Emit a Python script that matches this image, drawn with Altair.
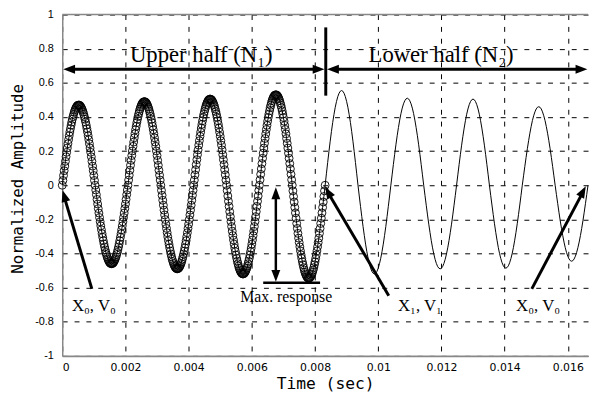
import altair as alt
import pandas as pd

# ---------------- data ----------------
UPPER_STEP = 0.00002   # sampling interval of the circle-marked upper half (s)
LOWER_START = 0.00832  # start of the lower half (s)
LOWER_STEP = 0.00004   # sampling interval of the line-drawn lower half (s)

# upper half (drawn with circles), one line per half-cycle
upper_amp = [
    0, .028, .057, .085, .112, .140, .167, .193, .218, .243, .267, .290, .312, .332, .352, .370, .387, .402, .416, .429, .439, .449, .456, .462, .467, .469, .470, .469, .467, .462, .456, .449, .439, .429, .416, .402, .387, .370, .352, .332, .312, .290, .267, .243, .218, .193, .167, .140, .112, .085, .057, .028,
    0, -.028, -.055, -.083, -.110, -.137, -.163, -.189, -.214, -.238, -.261, -.284, -.305, -.325, -.344, -.362, -.379, -.394, -.407, -.420, -.430, -.439, -.447, -.453, -.457, -.459, -.460, -.459, -.457, -.453, -.447, -.439, -.430, -.420, -.407, -.394, -.379, -.362, -.344, -.325, -.305, -.284, -.261, -.238, -.214, -.189, -.163, -.137, -.110, -.083, -.055, -.028,
    0, .030, .059, .088, .117, .146, .174, .201, .228, .253, .278, .302, .325, .346, .367, .386, .403, .419, .434, .447, .458, .468, .476, .482, .486, .489, .490, .489, .486, .482, .476, .468, .458, .447, .434, .419, .403, .386, .367, .346, .325, .302, .278, .253, .228, .201, .174, .146, .117, .088, .059, .030,
    0, -.030, -.059, -.088, -.117, -.146, -.174, -.201, -.228, -.253, -.278, -.302, -.325, -.346, -.367, -.386, -.403, -.419, -.434, -.447, -.458, -.468, -.476, -.482, -.486, -.489, -.490, -.489, -.486, -.482, -.476, -.468, -.458, -.447, -.434, -.419, -.403, -.386, -.367, -.346, -.325, -.302, -.278, -.253, -.228, -.201, -.174, -.146, -.117, -.088, -.059, -.030,
    0, .030, .061, .091, .121, .150, .179, .207, .235, .261, .287, .311, .335, .357, .378, .398, .416, .432, .447, .461, .472, .482, .490, .497, .501, .504, .505, .504, .501, .497, .490, .482, .472, .461, .447, .432, .416, .398, .378, .357, .335, .311, .287, .261, .235, .207, .179, .150, .121, .091, .061, .030,
    0, -.031, -.063, -.094, -.124, -.155, -.184, -.213, -.242, -.269, -.295, -.321, -.345, -.368, -.389, -.409, -.428, -.445, -.460, -.474, -.486, -.496, -.505, -.511, -.516, -.519, -.520, -.519, -.516, -.511, -.505, -.496, -.486, -.474, -.460, -.445, -.428, -.409, -.389, -.368, -.345, -.321, -.295, -.269, -.242, -.213, -.184, -.155, -.124, -.094, -.063, -.031,
    0, .032, .064, .096, .127, .158, .188, .218, .246, .274, .301, .327, .351, .375, .397, .417, .436, .454, .469, .483, .496, .506, .515, .521, .526, .529, .530, .529, .526, .521, .515, .506, .496, .483, .469, .454, .436, .417, .397, .375, .351, .327, .301, .274, .246, .218, .188, .158, .127, .096, .064, .032,
    0, -.033, -.066, -.098, -.130, -.162, -.193, -.224, -.253, -.282, -.310, -.336, -.361, -.385, -.408, -.429, -.449, -.466, -.483, -.497, -.510, -.520, -.529, -.536, -.541, -.544, -.545, -.544, -.541, -.536, -.529, -.520, -.510, -.497, -.483, -.466, -.449, -.429, -.408, -.385, -.361, -.336, -.310, -.282, -.253, -.224, -.193, -.162, -.130, -.098, -.066, -.033,
]
# lower half (thin line)
lower_amp = [
    0, .067, .133, .197, .258, .315, .368, .415, .457, .491, .519, .539, .551, .555, .551, .539, .519, .491, .457, .415, .368, .315, .258, .197, .133, .067,
    0, -.063, -.124, -.184, -.242, -.295, -.345, -.389, -.428, -.460, -.486, -.505, -.516, -.520, -.516, -.505, -.486, -.460, -.428, -.389, -.345, -.295, -.242, -.184, -.124, -.063,
    0, .061, .122, .181, .237, .290, .338, .382, .420, .452, .477, .495, .506, .510, .506, .495, .477, .452, .420, .382, .338, .290, .237, .181, .122, .061,
    0, -.059, -.117, -.174, -.228, -.278, -.325, -.367, -.403, -.434, -.458, -.476, -.486, -.490, -.486, -.476, -.458, -.434, -.403, -.367, -.325, -.278, -.228, -.174, -.117, -.059,
    0, .061, .121, .179, .235, .287, .335, .378, .416, .447, .472, .490, .501, .505, .501, .490, .472, .447, .416, .378, .335, .287, .235, .179, .121, .061,
    0, -.059, -.116, -.172, -.226, -.276, -.322, -.364, -.400, -.430, -.454, -.472, -.482, -.486, -.482, -.472, -.454, -.430, -.400, -.364, -.322, -.276, -.226, -.172, -.116, -.059,
    0, .055, .110, .163, .214, .261, .305, .344, .379, .407, .430, .447, .457, .460, .457, .447, .430, .407, .379, .344, .305, .261, .214, .163, .110, .055,
    0, -.054, -.106, -.158, -.207, -.253, -.295, -.333, -.366, -.394, -.416, -.432, -.442, -.445, -.442, -.432, -.416, -.394, -.366, -.333, -.295, -.253, -.207, -.158, -.106, -.054,
    0,
]

x_ticks = [0, 0.002, 0.004, 0.006, 0.008, 0.01, 0.012, 0.014, 0.016]
y_ticks = [-1, -0.8, -0.6, -0.4, -0.2, 0, 0.2, 0.4, 0.6, 0.8, 1]
X_MAX = 0.01664

# annotation shafts (thick)
shaft_x = [0.00022, 0.00857, 0.00834, 0.000937, 0.010334, 0.014861]
shaft_y = [0.68, 0.68, 0.525, -0.607, -0.647, -0.607]
shaft_x2 = [0.00811, 0.01643, 0.00834, 0.000053, 0.00841, 0.01649]
shaft_y2 = [0.68, 0.68, 0.925, -0.062, -0.042, -0.036]
# max-response shaft and base bar
mr_x = [0.00676, 0.00636]
mr_y = [-0.04, -0.571]
mr_x2 = [0.00676, 0.00816]
mr_y2 = [-0.535, -0.571]
# arrow heads: tip position and pointing angle
head_x = [0.00003, 0.0083, 0.00838, 0.01662, 0.00676, 0.00676, 0.00001, 0.00832, 0.01657]
head_y = [0.68, 0.68, 0.68, 0.68, -0.012, -0.566, -0.029, -0.01, -0.006]
head_angle = [270, 90, 270, 90, 0, 180, 343.3, 329.8, 28.3]

big_text = ["Upper half (N\u2081)", "Lower half (N\u2082)"]
big_x = [0.0044, 0.01199]
big_y = [0.72, 0.72]
small_text = ["X\u2080, V\u2080", "X\u2081, V\u2081", "X\u2080, V\u2080"]
small_x = [0.001, 0.01132, 0.01506]
small_y = [-0.734, -0.734, -0.734]
mr_text = ["Max. response"]
mr_tx = [0.00709]
mr_ty = [-0.682]

# ---------------- frames ----------------
upper = pd.DataFrame({"t": [i * UPPER_STEP for i in range(len(upper_amp))], "amp": upper_amp})
lower = pd.DataFrame({"t": [LOWER_START + j * LOWER_STEP for j in range(len(lower_amp))], "amp": lower_amp})
signal = pd.concat([upper, lower], ignore_index=True)
circles = signal.iloc[: len(upper_amp) + 1]

shafts = pd.DataFrame({"t": shaft_x, "amp": shaft_y, "t2": shaft_x2, "amp2": shaft_y2})
mr = pd.DataFrame({"t": mr_x, "amp": mr_y, "t2": mr_x2, "amp2": mr_y2})
heads = pd.DataFrame({"t": head_x, "amp": head_y, "angle": head_angle})
big = pd.DataFrame({"t": big_x, "amp": big_y, "label": big_text})
small = pd.DataFrame({"t": small_x, "amp": small_y, "label": small_text})
mrt = pd.DataFrame({"t": mr_tx, "amp": mr_ty, "label": mr_text})
border = pd.DataFrame({"amp": [1]})

xs = alt.Scale(domain=[0, X_MAX], nice=False, zero=False)
ys = alt.Scale(domain=[-1, 1], nice=False)

x_axis = alt.Axis(
    values=x_ticks, labelExpr="toString(datum.value)", title="Time (sec)",
    grid=True, gridDash=[5, 7], gridColor="black", gridWidth=1, gridOpacity=1,
    domainColor="#888888", domainWidth=2, ticks=False,
    labelFont="DejaVu Sans", labelFontSize=11, labelColor="black", labelPadding=6,
    labelOverlap=False,
    titleFont="DejaVu Sans Mono", titleFontSize=16.5, titleFontWeight="normal",
    titleColor="black", titleBaseline="alphabetic", titleY=33,
)
y_axis = alt.Axis(
    values=y_ticks, labelExpr="toString(datum.value)", title="Normalized Amplitude",
    grid=True, gridDash=[5, 7], gridColor="black", gridWidth=1, gridOpacity=1,
    domainColor="#888888", domainWidth=1.5, ticks=False,
    labelFont="Liberation Sans", labelFontSize=11, labelColor="black", labelPadding=9,
    labelOverlap=False,
    titleFont="DejaVu Sans Mono", titleFontSize=16, titleFontWeight="normal",
    titleColor="black", titleBaseline="alphabetic", titleX=-40, titleY=166,
)

X = alt.X("t:Q", scale=xs, axis=x_axis)
Y = alt.Y("amp:Q", scale=ys, axis=y_axis)

line = alt.Chart(signal).mark_line(color="black", strokeWidth=1).encode(x=X, y=Y)
pts = alt.Chart(circles).mark_point(
    shape="circle", filled=False, size=64, strokeWidth=0.9, color="black", opacity=1
).encode(x=X, y=Y)
top_border = alt.Chart(border).mark_rule(color="#888888", strokeWidth=1.5).encode(y=Y)
shaft_layer = alt.Chart(shafts).mark_rule(color="black", strokeWidth=3).encode(
    x=X, y=Y, x2="t2:Q", y2="amp2:Q",
)
mr_layer = alt.Chart(mr).mark_rule(color="black", strokeWidth=2.5).encode(
    x=X, y=Y, x2="t2:Q", y2="amp2:Q",
)
head_layer = alt.Chart(heads).mark_point(
    shape="M0,0L-0.75,2L0.75,2Z", filled=True, size=144, color="black",
    opacity=1, strokeWidth=0,
).encode(x=X, y=Y, angle=alt.Angle("angle:Q", scale=None))
big_layer = alt.Chart(big).mark_text(
    font="Liberation Serif", fontSize=23, baseline="alphabetic", align="center", color="black"
).encode(x=X, y=Y, text="label:N")
small_layer = alt.Chart(small).mark_text(
    font="Liberation Serif", fontSize=17, baseline="alphabetic", align="center", color="black"
).encode(x=X, y=Y, text="label:N")
mr_text_layer = alt.Chart(mrt).mark_text(
    font="Liberation Serif", fontSize=16, baseline="alphabetic", align="center", color="black"
).encode(x=X, y=Y, text="label:N")

chart = alt.layer(
    line, pts, top_border, shaft_layer, mr_layer, head_layer, big_layer, small_layer, mr_text_layer
).properties(
    width=533, height=346,
    autosize=alt.AutoSizeParams(type="none"),
    padding={"left": 55, "top": 4, "right": 1, "bottom": 40},
    background="white",
).configure_view(stroke=None)

chart.save("out.html", embed_options={"renderer": "svg", "actions": False})
